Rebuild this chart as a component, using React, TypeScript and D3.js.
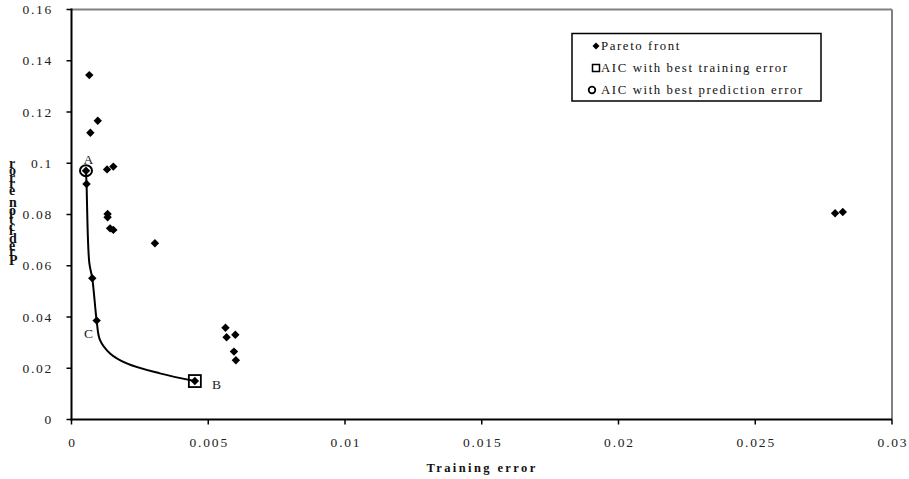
import React from "react";
import * as d3 from "d3";

// Pareto front points [training error, prediction error]
const paretoX = [0.00065, 0.00096, 0.00069, 0.00053, 0.00055, 0.0013, 0.00153, 0.00132, 0.00132, 0.00141, 0.00153, 0.00305, 0.00076, 0.00092, 0.00451, 0.00563, 0.00567, 0.00599, 0.00594, 0.00601, 0.02792, 0.0282];
const paretoY = [0.1344, 0.1166, 0.1119, 0.0971, 0.0919, 0.0976, 0.0987, 0.0802, 0.0789, 0.0746, 0.074, 0.0688, 0.0551, 0.0386, 0.015, 0.0358, 0.0321, 0.0331, 0.0265, 0.0231, 0.0805, 0.081];

// smooth front curve A -> C -> B
const curveX = [0.00053, 0.00055, 0.00065, 0.00076, 0.00092, 0.00104, 0.00141, 0.00202, 0.00323, 0.00451];
const curveY = [0.0971, 0.0919, 0.0612, 0.0551, 0.0386, 0.0311, 0.0258, 0.0219, 0.018, 0.015];

const bestTraining = [0.00451, 0.015];
const bestPrediction = [0.00053, 0.0971];

const xTicks = [0, 0.005, 0.01, 0.015, 0.02, 0.025, 0.03];
const xTickLabels = ["0", "0.005", "0.01", "0.015", "0.02", "0.025", "0.03"];
const yTicks = [0, 0.02, 0.04, 0.06, 0.08, 0.1, 0.12, 0.14, 0.16];
const yTickLabels = ["0", "0.02", "0.04", "0.06", "0.08", "0.1", "0.12", "0.14", "0.16"];

const legendItems = ["Pareto front", "AIC with best training error", "AIC with best prediction error"];
const pointLabels = [
  { t: "A", x: 0.00062, y: 0.1015 },
  { t: "C", x: 0.00062, y: 0.0335 },
  { t: "B", x: 0.0053, y: 0.0137 },
];
const yTitle = "Prediction error";
const xTitle = "Training error";

const FONT = "'Liberation Serif', 'Times New Roman', serif";

const diamond = (r: number) => `M0,${-r}L${r},0L0,${r}L${-r},0Z`;

export default function App() {
  const W = 909, H = 479;
  const L = 71.5, R = 892, T = 9.5, B = 419.5;
  const x = d3.scaleLinear().domain([0, 0.03]).range([L, R]);
  const y = d3.scaleLinear().domain([0, 0.16]).range([B, T]);
  const line = d3
    .line<number>()
    .x((_, i) => x(curveX[i]))
    .y((_, i) => y(curveY[i]))
    .curve(d3.curveCatmullRom.alpha(0.5));

  return (
    <svg width={W} height={H} style={{ position: "absolute", left: 0, top: 0, background: "#fff" }} fontFamily={FONT}>
      <rect x={0} y={0} width={W} height={H} fill="#fff" />
      {/* frame: gray top & right */}
      <line x1={L} x2={R} y1={T} y2={T} stroke="#808080" strokeWidth={2} />
      <line x1={R} x2={R} y1={T} y2={B} stroke="#808080" strokeWidth={2} />
      {/* axes */}
      <line x1={L} x2={L} y1={T - 1} y2={B + 1} stroke="#000" strokeWidth={2} />
      <line x1={L - 1} x2={R} y1={B} y2={B} stroke="#000" strokeWidth={2} />
      {yTicks.map((t, i) => (
        <g key={"y" + i}>
          <line x1={L - 5} x2={L} y1={y(t)} y2={y(t)} stroke="#000" strokeWidth={1.5} />
          <text x={53} y={y(t) + 4.5} textAnchor="end" fontSize={13.5} letterSpacing={1.7} fill="#222">
            {yTickLabels[i]}
          </text>
        </g>
      ))}
      {xTicks.map((t, i) => (
        <g key={"x" + i}>
          <line x1={x(t)} x2={x(t)} y1={B} y2={B + 5} stroke="#000" strokeWidth={1.5} />
          <text x={x(t) + 1} y={447} textAnchor="middle" fontSize={13.5} letterSpacing={1.8} fill="#222">
            {xTickLabels[i]}
          </text>
        </g>
      ))}
      {/* axis titles */}
      <text x={482} y={472} textAnchor="middle" fontSize={12.5} fontWeight="bold" letterSpacing={2.4} fill="#111">
        {xTitle}
      </text>
      <text
        transform="translate(9,265) rotate(-90)"
        x={0}
        y={0}
        rotate="90"
        fontSize={14}
        fontWeight="bold"
        letterSpacing={0.4}
        fill="#111"
      >
        {yTitle}
      </text>
      {/* curve */}
      <path d={line(curveX) || ""} fill="none" stroke="#000" strokeWidth={2} />
      {/* pareto points */}
      {paretoX.map((v, i) => (
        <path key={"p" + i} d={diamond(4.2)} transform={`translate(${x(v)},${y(paretoY[i])})`} fill="#000" />
      ))}
      {/* best training: square */}
      <rect x={x(bestTraining[0]) - 6} y={y(bestTraining[1]) - 6} width={12} height={12} fill="none" stroke="#000" strokeWidth={1.8} />
      {/* best prediction: circle */}
      <ellipse cx={x(bestPrediction[0])} cy={y(bestPrediction[1])} rx={6} ry={5.5} fill="none" stroke="#000" strokeWidth={2} />
      {/* point labels */}
      {pointLabels.map((p, i) => (
        <text key={"l" + i} x={x(p.x)} y={y(p.y) + 4.5} textAnchor="middle" fontSize={13.5} fill="#222">
          {p.t}
        </text>
      ))}
      {/* legend */}
      <rect x={572} y={33.5} width={249} height={67.5} fill="#fff" stroke="#000" strokeWidth={1.5} />
      {legendItems.map((s, i) => {
        const cy = 46 + i * 22;
        return (
          <g key={"lg" + i}>
            {i === 0 && <path d={diamond(3.5)} transform={`translate(${596},${cy})`} fill="#000" />}
            {i === 1 && <rect x={592.5} y={cy - 3.5} width={7} height={7} fill="none" stroke="#000" strokeWidth={1.5} />}
            {i === 2 && <ellipse cx={592} cy={cy} rx={3.3} ry={3.3} fill="none" stroke="#000" strokeWidth={1.8} />}
            <text x={601} y={cy + 4} fontSize={12.8} letterSpacing={1.6} fill="#111">
              {s}
            </text>
          </g>
        );
      })}
    </svg>
  );
}
